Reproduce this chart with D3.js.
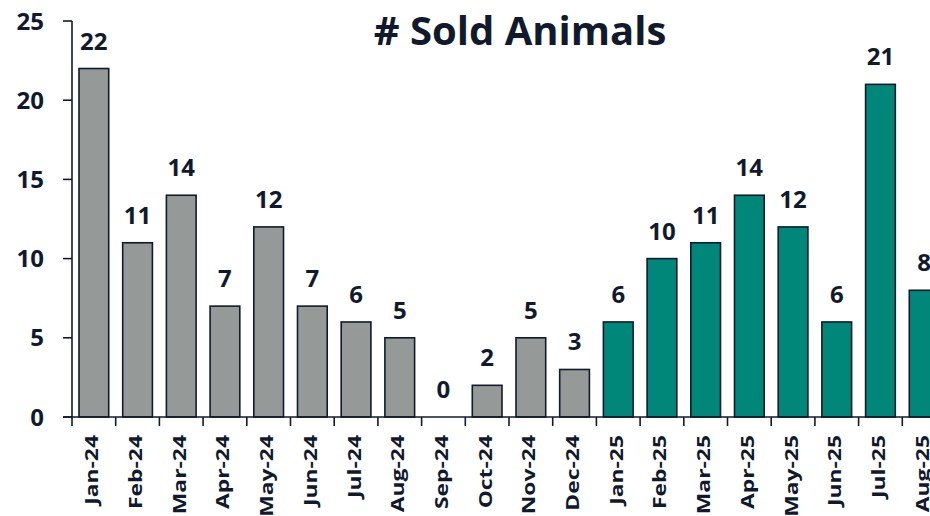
<!DOCTYPE html>
<html>
<head>
<meta charset="utf-8">
<script src="https://cdn.jsdelivr.net/npm/d3@7"></script>
<style>
  body { margin: 0; background: #fff; overflow: hidden; }
  svg text { font-family: "Open Sans", sans-serif; font-weight: 700; fill: #111a2c; }
</style>
</head>
<body>
<svg id="chart"></svg>
<script>
const months = ["Jan-24","Feb-24","Mar-24","Apr-24","May-24","Jun-24","Jul-24","Aug-24","Sep-24","Oct-24","Nov-24","Dec-24",
  "Jan-25","Feb-25","Mar-25","Apr-25","May-25","Jun-25","Jul-25","Aug-25"];
const sold = [22,11,14,7,12,7,6,5,0,2,5,3,6,10,11,14,12,6,21,8];
const yTicks = [0,5,10,15,20,25];
const title = "# Sold Animals";

const width = 930, height = 516;
const svg = d3.select("#chart").attr("width", width).attr("height", height);

const x0 = 72, step = 43.7;
const x = d3.scaleBand()
  .domain(months)
  .range([x0, x0 + step * months.length])
  .paddingInner(0.32)
  .paddingOuter(0.16);
const y = d3.scaleLinear().domain([0, 25]).range([417, 21]);

const ink = "#111a2c";

// bars
svg.selectAll(".bar")
  .data(months).enter()
  .append("rect")
    .attr("class", "bar")
    .attr("x", d => x(d))
    .attr("width", x.bandwidth())
    .attr("y", (d, i) => y(sold[i]))
    .attr("height", (d, i) => y(0) - y(sold[i]))
    .attr("fill", d => d.endsWith("24") ? "#959a98" : "#00877a")
    .attr("stroke", ink)
    .attr("stroke-width", 1.6);

// value labels
svg.selectAll(".val")
  .data(months).enter()
  .append("text")
    .attr("class", "val")
    .attr("x", d => x(d) + x.bandwidth() / 2)
    .attr("y", (d, i) => y(sold[i]) - 19)
    .attr("text-anchor", "middle")
    .attr("font-size", 24)
    .text((d, i) => sold[i]);

// y axis
const yAxis = svg.append("g");
yAxis.append("line")
  .attr("x1", x0).attr("x2", x0)
  .attr("y1", y(25)).attr("y2", y(0))
  .attr("stroke", ink).attr("stroke-width", 1.6);
yAxis.selectAll(".ytick")
  .data(yTicks).enter()
  .append("line")
    .attr("x1", x0 - 9).attr("x2", x0)
    .attr("y1", d => y(d)).attr("y2", d => y(d))
    .attr("stroke", ink).attr("stroke-width", 1.6);
yAxis.selectAll(".ylab")
  .data(yTicks).enter()
  .append("text")
    .attr("x", 44)
    .attr("y", d => y(d) + 8.5)
    .attr("text-anchor", "end")
    .attr("font-size", 24)
    .text(d => d);

// x axis
const xAxis = svg.append("g");
xAxis.append("line")
  .attr("x1", x0 - 9).attr("x2", x0 + step * months.length)
  .attr("y1", y(0)).attr("y2", y(0))
  .attr("stroke", ink).attr("stroke-width", 1.6);
xAxis.selectAll(".xtick")
  .data(d3.range(months.length + 1)).enter()
  .append("line")
    .attr("x1", i => x0 + i * x.step()).attr("x2", i => x0 + i * x.step())
    .attr("y1", y(0)).attr("y2", y(0) + 9)
    .attr("stroke", ink).attr("stroke-width", 1.6);
xAxis.selectAll(".xlab")
  .data(months).enter()
  .append("text")
    .attr("transform", d => `translate(${x(d) + x.bandwidth() / 2 + 4.5},435) rotate(-90) scale(1.27,1)`)
    .attr("text-anchor", "end")
    .attr("font-size", 18)
    .text(d => d);

// title
svg.append("text")
  .attr("x", 520)
  .attr("y", 45)
  .attr("text-anchor", "middle")
  .attr("font-size", 40)
  .text(title);
</script>
</body>
</html>
